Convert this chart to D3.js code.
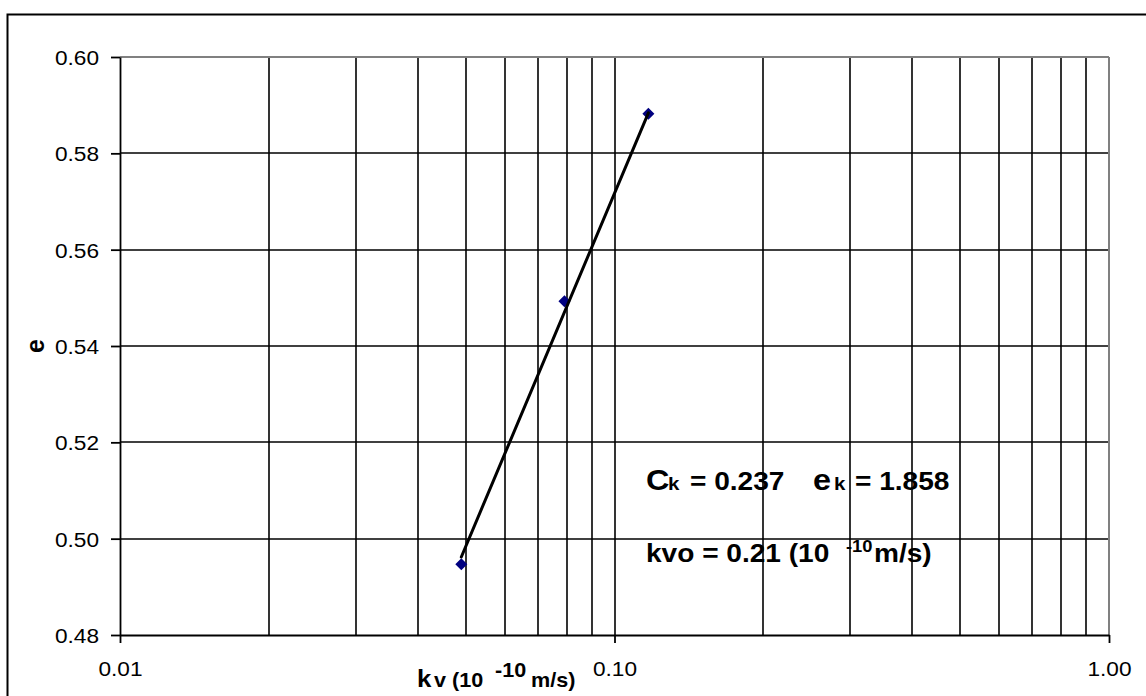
<!DOCTYPE html>
<html><head><meta charset="utf-8">
<script src="https://cdn.jsdelivr.net/npm/d3@7"></script>
<style>
body{margin:0;background:#fff}
svg{display:block}
text{font-family:"Liberation Sans",Arial,sans-serif;fill:#000}
</style>
</head><body>
<svg id="chart" width="1146" height="696"></svg>
<script>
// ---- data ----
const kvValues = [0.0490, 0.0792, 0.1171];
const eValues = [0.4947, 0.5493, 0.5882];
const trendK = [0.0490, 0.1171];
const trendE = [0.4962, 0.5884];
const xTickValues = [0.01, 0.1, 1];
const xTickLabels = ["0.01", "0.10", "1.00"];
const yTickValues = [0.48, 0.50, 0.52, 0.54, 0.56, 0.58, 0.60];
const yTickLabels = ["0.48", "0.50", "0.52", "0.54", "0.56", "0.58", "0.60"];
const ckValue = "0.237";
const ekValue = "1.858";
const kvoValue = "0.21";

// ---- layout ----
const W = 1146, H = 696;
const L = 120, R = 1109, T = 57, B = 635;
const SX = 1.08; // horizontal stretch of text seen in the reference

const svg = d3.select("#chart");
svg.append("rect").attr("width", W).attr("height", H).attr("fill", "#fff");
// outer frame (runs off the right and bottom edges)
svg.append("rect").attr("x", 7.5).attr("y", 14.5).attr("width", 1300).attr("height", 900)
  .attr("fill", "none").attr("stroke", "#000").attr("stroke-width", 2);

const x = d3.scaleLog().domain([0.01, 1]).range([L, R]);
const y = d3.scaleLinear().domain([0.48, 0.60]).range([B, T]);

function piece(g, str, px, py, size, bold, anchor) {
  return g.append("text")
    .attr("transform", `translate(${px},${py}) scale(${SX},1)`)
    .attr("font-size", size)
    .attr("font-weight", bold ? "bold" : "normal")
    .attr("text-anchor", anchor || "start")
    .text(str);
}

// grid
const grid = svg.append("g").attr("stroke", "#000").attr("stroke-width", 1.6);
grid.selectAll("line.v").data(x.ticks().filter(d => d > 0.0101 && d < 0.999))
  .join("line").attr("class", "v")
  .attr("x1", d => Math.round(x(d))).attr("x2", d => Math.round(x(d))).attr("y1", T).attr("y2", B);
grid.selectAll("line.h").data(yTickValues.filter(d => d > 0.481 && d < 0.599))
  .join("line").attr("class", "h")
  .attr("x1", L).attr("x2", R).attr("y1", d => Math.round(y(d))).attr("y2", d => Math.round(y(d)));

// plot-area border (top and right in grey)
const border = svg.append("g").attr("stroke", "#808080").attr("stroke-width", 2);
border.append("line").attr("x1", L).attr("x2", R).attr("y1", T).attr("y2", T);
border.append("line").attr("x1", R).attr("x2", R).attr("y1", T).attr("y2", B);

// axes
const yAxis = svg.append("g").attr("transform", `translate(${L},0)`)
  .call(d3.axisLeft(y).tickValues(yTickValues).tickFormat((d, i) => yTickLabels[i]).tickSize(9).tickSizeOuter(0));
const xAxis = svg.append("g").attr("transform", `translate(0,${B})`)
  .call(d3.axisBottom(x).tickValues(xTickValues).tickFormat((d, i) => xTickLabels[i]).tickSize(8).tickSizeOuter(0));
[yAxis, xAxis].forEach(a => {
  a.attr("font-family", null).attr("font-size", null);
  a.selectAll("path.domain").attr("stroke", "#000").attr("stroke-width", 1.8);
  a.selectAll(".tick line").attr("stroke", "#000").attr("stroke-width", 1.8);
});
yAxis.selectAll(".tick text")
  .attr("x", null).attr("dy", null)
  .attr("transform", `translate(-21,7.5) scale(${SX},1)`)
  .attr("font-size", 21).attr("text-anchor", "end").attr("fill", "#000");
xAxis.selectAll(".tick text")
  .attr("y", null).attr("dy", null)
  .attr("transform", `translate(0,41) scale(${SX},1)`)
  .attr("font-size", 21).attr("text-anchor", "middle").attr("fill", "#000");

// points
const diamond = (cx, cy) => `M${cx},${cy - 6}L${cx + 6},${cy}L${cx},${cy + 6}L${cx - 6},${cy}Z`;
svg.append("g").selectAll("path").data(kvValues.map((k, i) => [k, eValues[i]]))
  .join("path").attr("d", d => diamond(x(d[0]), y(d[1]))).attr("fill", "#000080");

// trend line
svg.append("path")
  .datum(trendK.map((k, i) => [k, trendE[i]]))
  .attr("d", d3.line().x(d => x(d[0])).y(d => y(d[1])))
  .attr("fill", "none").attr("stroke", "#000").attr("stroke-width", 3).attr("stroke-linecap", "round");

// axis titles
const t = svg.append("g");
t.append("text").attr("transform", "translate(44,346) rotate(-90)")
  .attr("font-size", 25).attr("font-weight", "bold").attr("text-anchor", "middle").text("e");

piece(t, "k", 417, 687, 24, true);
piece(t, "v (10", 434, 687, 20, true);
piece(t, "-10", 495, 677, 20, true);
piece(t, "m/s)", 531, 687, 20, true);

// annotations
piece(t, "C", 646, 490, 30, true);
piece(t, "k", 668, 490, 19, true);
piece(t, "= " + ckValue, 690, 490, 26, true);
piece(t, "e", 813, 490, 30, true);
piece(t, "k", 834, 490, 19, true);
piece(t, "= " + ekValue, 855, 490, 26, true);

piece(t, "kvo = " + kvoValue + " (10", 646, 562, 26, true);
piece(t, "-10", 846, 552, 17, true);
piece(t, "m/s)", 874, 562, 26, true);
</script>
</body></html>
